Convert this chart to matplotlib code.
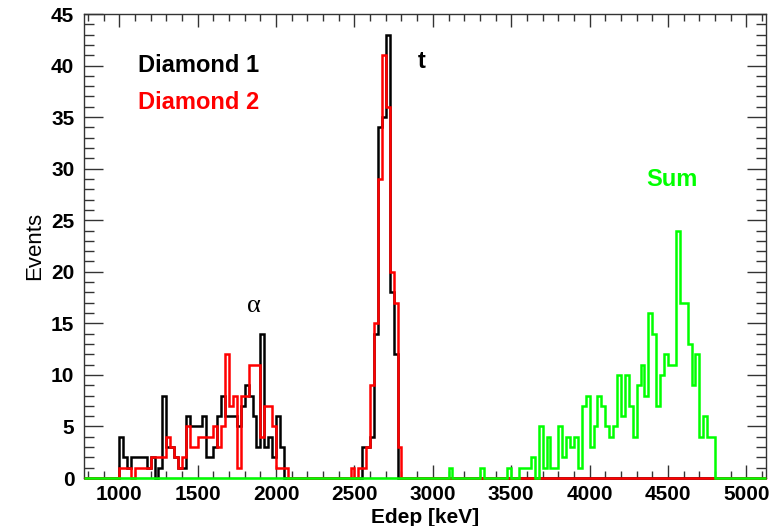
"""Energy deposit spectra of the two diamond detectors and their sum."""

import numpy as np
import matplotlib.pyplot as plt
from matplotlib.ticker import MultipleLocator

plt.rcParams["font.family"] = ["Liberation Sans", "DejaVu Sans"]

BIN_WIDTH = 25  # keV
HIST_LO, HIST_HI = 775, 5125

# Diamond 1 (black): alpha region and triton peak, counts per 25 keV bin
D1_LOW_START = 1000
D1_LOW = [4, 2, 1, 2, 2, 2, 2, 1, 2, 0, 1, 8, 3, 3, 2, 1, 1, 6, 5, 5, 5,
          6, 2, 2, 3, 6, 8, 6, 6, 6, 5, 7, 9, 8, 6, 3, 14, 3, 4, 2, 6, 3]
D1_PEAK_START = 2550
D1_PEAK = [3, 3, 4, 14, 34, 35, 43, 18, 12]

# Diamond 2 (red)
D2_LOW_START = 1000
D2_LOW = [1, 1, 1, 0, 1, 1, 1, 1, 2, 2, 2, 2, 4, 3, 2, 1, 2, 5, 3, 3, 4,
          4, 4, 4, 5, 3, 5, 12, 7, 8, 1, 8, 8, 11, 11, 11, 4, 7, 7, 5, 1, 1, 1]
D2_PEAK_START = 2475
D2_PEAK = [1, 0, 1, 1, 3, 9, 15, 29, 41, 36, 20, 17, 3]

# Sum of both diamonds (green)
SUM_START = 3100
SUM = [1, 0, 0, 0, 0, 0, 0, 0, 1, 0, 0, 0, 0, 0, 0, 1, 0, 0,
       1, 1, 1, 2, 0, 5, 1, 4, 1, 1, 5, 2, 4, 3, 4, 1, 7, 8, 3, 5, 8, 7,
       5, 4, 5, 10, 6, 10, 7, 4, 9, 11, 8, 16, 14, 7, 10, 12, 11, 11, 24,
       17, 17, 13, 9, 12, 4, 6, 4, 4]


def fill(parts):
    edges = np.arange(HIST_LO, HIST_HI + BIN_WIDTH, BIN_WIDTH)
    counts = np.zeros(len(edges) - 1)
    for start, vals in parts:
        i = (start - HIST_LO) // BIN_WIDTH
        counts[i:i + len(vals)] = vals
    return edges, counts


def main() -> None:
    fig = plt.figure(figsize=(7.78, 5.26), dpi=100)
    ax = fig.add_axes([84 / 778, 48 / 526, (766 - 84) / 778, (478 - 14) / 526])

    series = [
        ([(D1_LOW_START, D1_LOW), (D1_PEAK_START, D1_PEAK)], "black"),
        ([(D2_LOW_START, D2_LOW), (D2_PEAK_START, D2_PEAK)], "#ff0000"),
        ([(SUM_START, SUM)], "#00ff00"),
    ]
    for parts, color in series:
        edges, counts = fill(parts)
        ax.stairs(counts, edges, color=color, linewidth=1.8, baseline=None,
                  clip_on=False, zorder=3)

    ax.set_xlim(HIST_LO, HIST_HI)
    ax.set_ylim(0, 45)

    ax.xaxis.set_major_locator(MultipleLocator(500))
    ax.xaxis.set_minor_locator(MultipleLocator(100))
    ax.yaxis.set_major_locator(MultipleLocator(5))
    ax.yaxis.set_minor_locator(MultipleLocator(1))
    ax.tick_params(which="both", direction="in", top=True, right=True,
                   width=1, color="#333333")
    ax.tick_params(axis="x", which="major", length=9.5, pad=5)
    ax.tick_params(axis="x", which="minor", length=5)
    ax.tick_params(axis="y", which="major", length=14, pad=7)
    ax.tick_params(axis="y", which="minor", length=7)
    for lab in ax.get_xticklabels() + ax.get_yticklabels():
        lab.set_fontsize(15)
        lab.set_fontweight("bold")
    for sp in ax.spines.values():
        sp.set_color("#333333")
        sp.set_linewidth(1)

    ax.set_xlabel("Edep [keV]", fontsize=15, fontweight="bold", labelpad=3)
    ax.set_ylabel("Events", fontsize=16, labelpad=4)

    ax.text(1119, 39.4, "Diamond 1", fontsize=17, fontweight="bold",
            color="black", va="baseline")
    ax.text(1119, 35.8, "Diamond 2", fontsize=17, fontweight="bold",
            color="#ff0000", va="baseline")
    ax.text(2904, 39.8, "t", fontsize=17, fontweight="bold", va="baseline")
    ax.text(4359, 28.3, "Sum", fontsize=17, fontweight="bold",
            color="#00ff00", va="baseline")
    ax.text(1813, 16.1, "α", fontsize=19, family="Liberation Serif",
            va="baseline")

    fig.savefig("out.png", dpi=100)
    plt.close(fig)


if __name__ == "__main__":
    main()
